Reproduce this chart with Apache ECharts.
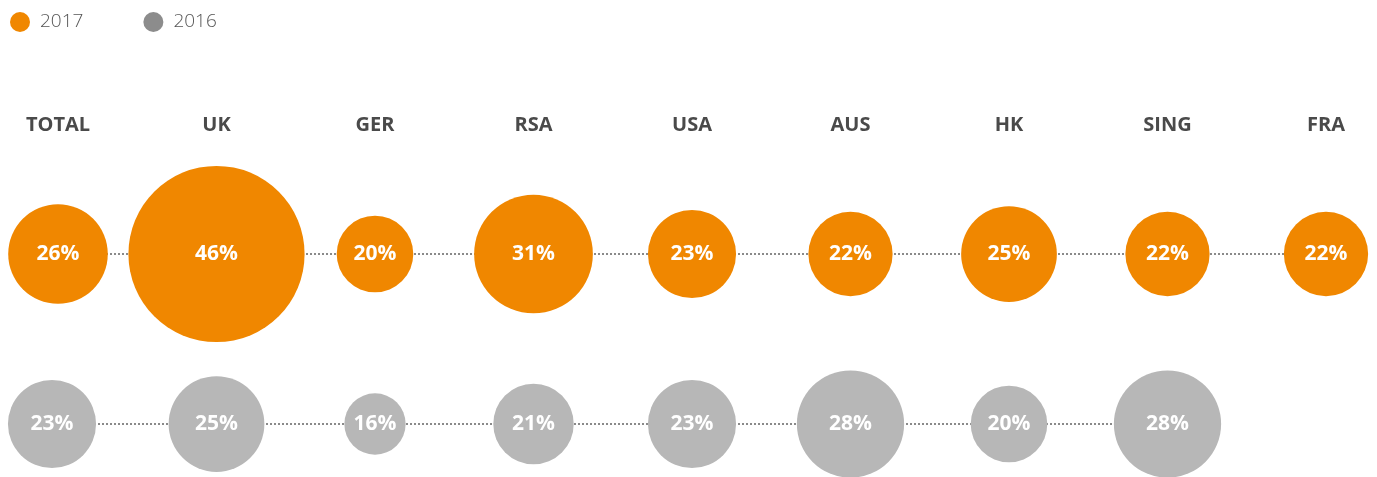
<!DOCTYPE html>
<html>
<head>
<meta charset="utf-8">
<script src="https://cdn.jsdelivr.net/npm/echarts@6/dist/echarts.min.js"></script>
<style>html,body{margin:0;padding:0;background:#fff}#c{width:1377px;height:477px}</style>
</head>
<body>
<div id="c"></div>
<script>
const categories = ['TOTAL','UK','GER','RSA','USA','AUS','HK','SING','FRA'];
const values2017 = [26,46,20,31,23,22,25,22,22];
const values2016 = [23,25,16,21,23,28,20,28,null];
const seriesNames = ['2017','2016'];

const ORANGE = '#F08700';
const GREY = '#B7B7B7';
const SCALE = 3.83;
const font = '"Open Sans", "DejaVu Sans", sans-serif';

const chart = echarts.init(document.getElementById('c'));
const rowData = (vals, row) => vals.map(v => v == null ? '-' : row);

chart.setOption({
  animation: false,
  legend: {
    left: 5, top: 7,
    itemWidth: 20, itemHeight: 20, itemGap: 60,
    icon: 'circle',
    data: [
      {name: '2017', itemStyle: {color: ORANGE}},
      {name: '2016', itemStyle: {color: '#8C8C8C'}}
    ],
    textStyle: {fontFamily: font, fontSize: 19, fontWeight: 300, color: '#555', padding: [0,0,0,5]}
  },
  grid: {left: 58, right: 51, top: 254, bottom: 53, containLabel: false},
  xAxis: {
    type: 'category', data: categories, position: 'top', boundaryGap: false,
    axisLine: {show: false}, axisTick: {show: false}, splitLine: {show: false},
    axisLabel: {margin: 119, fontFamily: font, fontSize: 20, fontWeight: 'bold', color: '#4A4A4A'}
  },
  yAxis: {type: 'value', min: 0, max: 1, show: false},
  series: [
    {type: 'line', data: rowData(values2017, 1), symbol: 'none', silent: true, z: 1,
     lineStyle: {color: '#8A8A8A', width: 2, type: [2, 2]}},
    {type: 'line', data: rowData(values2016, 0), symbol: 'none', silent: true, z: 1,
     lineStyle: {color: '#8A8A8A', width: 2, type: [2, 2]}},
    {name: seriesNames[0], type: 'scatter', z: 3,
     data: values2017.map((v, i) => ({value: [categories[i], 1], raw: v})),
     symbolSize: (val, p) => p.data.raw * SCALE,
     itemStyle: {color: ORANGE, opacity: 1},
     label: {show: true, position: 'inside', formatter: p => p.data.raw + '%',
       fontFamily: font, fontSize: 21, fontWeight: 'bold', color: '#fff'}},
    {name: seriesNames[1], type: 'scatter', z: 3,
     data: values2016.map((v, i) => v == null ? null : ({value: [categories[i], 0], raw: v,
       symbolOffset: i === 0 ? [-6, 0] : [0, 0]})).filter(d => d),
     symbolSize: (val, p) => p.data.raw * SCALE,
     itemStyle: {color: GREY, opacity: 1},
     label: {show: true, position: 'inside', formatter: p => p.data.raw + '%',
       fontFamily: font, fontSize: 21, fontWeight: 'bold', color: '#fff'}}
  ]
});
</script>
</body>
</html>
